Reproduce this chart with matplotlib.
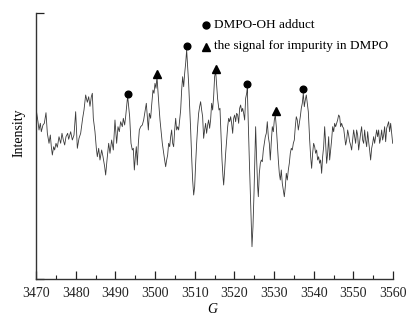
import matplotlib
matplotlib.use("Agg")
import matplotlib.pyplot as plt
from matplotlib.ticker import MultipleLocator

plt.rcParams['font.family'] = ['Liberation Serif', 'DejaVu Serif']

# ---- data (magnetic field G, intensity in arbitrary units) ----
field_G = [
    3470.00, 3470.50, 3470.76, 3471.09, 3471.34, 3471.76, 3472.10, 3472.52, 3472.86, 3473.28,
    3473.61, 3473.86, 3474.12, 3474.45, 3474.70, 3475.04, 3475.38, 3475.80, 3476.22, 3476.55,
    3476.89, 3477.23, 3477.56, 3477.98, 3478.24, 3478.74, 3479.16, 3479.58, 3480.00, 3480.42,
    3480.84, 3481.26, 3481.76, 3482.10, 3482.52, 3482.94, 3483.28, 3483.61, 3483.95, 3484.20,
    3484.45, 3484.87, 3485.21, 3485.46, 3485.80, 3486.13, 3486.55, 3486.89, 3487.31, 3487.56,
    3487.90, 3488.32, 3488.65, 3489.07, 3489.49, 3489.91, 3490.33, 3490.67, 3491.00, 3491.34,
    3491.76, 3492.01, 3492.35, 3492.60, 3493.10,
    3493.61, 3493.95, 3494.28, 3494.53, 3494.79, 3495.04, 3495.29, 3495.54, 3495.80, 3496.05,
    3496.38, 3496.80, 3497.14, 3497.48, 3497.81, 3498.07, 3498.32, 3498.57, 3498.90, 3499.16,
    3499.49, 3499.75, 3500.00, 3500.25, 3500.50, 3500.75, 3501.01, 3501.26, 3501.51, 3501.84,
    3502.18, 3502.43, 3502.69, 3502.94, 3503.19, 3503.44, 3503.70, 3503.95, 3504.20, 3504.45,
    3504.70, 3504.96, 3505.21, 3505.46, 3505.71, 3505.96, 3506.22, 3506.47, 3506.72, 3506.97,
    3507.23, 3507.48, 3507.73, 3507.98, 3508.23, 3508.48, 3508.74, 3508.99, 3509.24, 3509.49,
    3509.75, 3510.00, 3510.25, 3510.50, 3510.75, 3511.00, 3511.25, 3511.50, 3511.76, 3512.01,
    3512.26, 3512.51, 3512.76, 3513.01, 3513.27, 3513.52, 3513.77, 3514.02, 3514.28, 3514.53,
    3514.78, 3515.03, 3515.29, 3515.79,
    3516.13, 3516.38, 3516.63, 3516.89, 3517.14, 3517.31, 3517.56, 3517.81, 3518.06, 3518.32,
    3518.57, 3518.82, 3519.07, 3519.32, 3519.58, 3519.83, 3520.08, 3520.33, 3520.58, 3520.84,
    3521.09, 3521.34, 3521.59, 3521.85, 3522.10, 3522.35, 3522.60, 3522.85, 3523.11, 3523.27,
    3523.53, 3523.78, 3524.03, 3524.28, 3524.45, 3524.70, 3524.96, 3525.21, 3525.37, 3525.63,
    3525.88, 3526.05, 3526.30, 3526.55, 3526.80, 3527.05, 3527.31, 3527.56, 3527.81, 3528.06,
    3528.31, 3528.57, 3528.82, 3529.07, 3529.32, 3529.57, 3529.83, 3530.08, 3530.33, 3530.58,
    3530.83, 3531.09, 3531.34, 3531.59, 3531.84, 3532.09, 3532.35, 3532.60, 3532.85, 3533.10,
    3533.35, 3533.61, 3533.86, 3534.11, 3534.36, 3534.61, 3534.87, 3535.12, 3535.37, 3535.62,
    3535.87, 3536.13, 3536.38, 3536.63, 3536.88, 3537.13, 3537.39, 3537.64, 3537.89, 3538.14,
    3538.39, 3538.65,
    3538.99, 3539.24, 3539.49, 3539.74, 3539.99, 3540.25, 3540.50, 3540.75, 3541.00, 3541.25,
    3541.51, 3541.76, 3542.01, 3542.26, 3542.52, 3542.77, 3543.02, 3543.27, 3543.52, 3543.78,
    3544.03, 3544.28, 3544.53, 3544.78, 3545.04, 3545.29, 3545.54, 3545.79, 3546.04, 3546.30,
    3546.55, 3546.80, 3547.05, 3547.30, 3547.56, 3547.81, 3548.06, 3548.31, 3548.57, 3548.82,
    3549.07, 3549.32, 3549.57, 3549.83, 3550.08, 3550.33, 3550.58, 3550.83, 3551.09, 3551.34,
    3551.59, 3551.84, 3552.09, 3552.35, 3552.60, 3552.85, 3553.10, 3553.36, 3553.61, 3553.86,
    3554.11, 3554.36, 3554.62, 3554.87, 3555.12, 3555.37, 3555.62, 3555.88, 3556.13, 3556.38,
    3556.63, 3556.88, 3557.14, 3557.39, 3557.64, 3557.89, 3558.15, 3558.40, 3558.65, 3558.90,
    3559.15, 3559.41, 3559.66, 3559.92,
]

intensity = [
    170.7, 157.3, 149.0, 155.7, 147.3, 154.0, 155.7, 166.3, 145.7, 135.7,
    144.0, 132.3, 124.0, 132.3, 129.0, 135.7, 131.7, 142.3, 135.7, 145.7,
    139.0, 134.0, 142.3, 145.7, 139.7, 147.3, 139.0, 144.0, 167.3, 130.7,
    140.7, 145.7, 160.7, 169.0, 184.0, 176.7, 182.3, 172.7, 182.3, 185.7,
    160.7, 147.3, 130.7, 122.3, 130.7, 119.0, 129.0, 122.3, 112.3, 104.0,
    119.0, 135.7, 125.7, 139.0, 129.0, 159.0, 135.7, 152.3, 147.3, 157.3,
    152.3, 160.7, 154.0, 162.3, 183.0,
    162.3, 135.7, 129.0, 130.7, 109.0, 122.3, 132.3, 114.0, 135.7, 149.0,
    152.3, 154.0, 159.0, 167.3, 175.7, 162.3, 149.0, 165.7, 160.7, 174.0,
    189.0, 185.7, 195.7, 190.7, 202.3, 187.3, 172.3, 159.0, 149.0, 135.7,
    125.7, 119.0, 112.3, 119.0, 124.0, 135.7, 132.3, 142.3, 149.0, 135.7,
    132.3, 149.0, 160.7, 149.0, 152.3, 149.0, 159.0, 169.0, 189.0, 202.3,
    192.3, 205.7, 215.7, 229.0, 212.3, 195.7, 172.3, 149.0, 122.3, 99.0,
    84.0, 92.3, 115.7, 135.7, 152.3, 165.7, 172.3, 177.3, 169.0, 162.3,
    140.7, 149.0, 155.7, 145.7, 154.0, 159.0, 150.7, 159.0, 175.7, 169.0,
    182.3, 202.3, 208.0, 180.0,
    169.0, 170.7, 145.7, 119.0, 102.3, 94.0, 109.0, 125.7, 139.0, 152.3,
    160.7, 157.3, 162.3, 155.7, 145.7, 160.7, 164.0, 157.3, 165.7, 164.0,
    155.7, 170.7, 174.0, 167.3, 170.7, 165.7, 159.0, 180.7, 185.7, 190.7,
    152.3, 119.0, 85.7, 52.3, 32.3, 52.3, 85.7, 125.7, 152.3, 119.0,
    92.3, 82.3, 105.7, 115.7, 119.0, 117.3, 129.0, 135.7, 142.3, 145.7,
    157.3, 142.3, 135.7, 119.0, 137.3, 152.3, 147.3, 159.0, 164.0, 152.3,
    135.7, 119.0, 105.7, 99.0, 109.0, 95.7, 89.0, 82.3, 92.3, 105.7,
    99.0, 109.0, 115.7, 125.7, 130.7, 129.0, 135.7, 139.0, 152.3, 162.3,
    159.0, 149.0, 155.7, 162.3, 170.7, 175.7, 185.7, 172.3, 179.0, 184.0,
    175.7, 167.3,
    139.0, 122.3, 110.7, 125.7, 135.7, 132.3, 125.7, 129.0, 119.0, 122.3,
    115.7, 119.0, 105.7, 122.3, 132.3, 152.3, 135.7, 115.7, 125.7, 142.3,
    119.0, 129.0, 139.0, 152.3, 147.3, 155.7, 152.3, 155.7, 159.0, 164.0,
    162.3, 152.3, 155.7, 152.3, 150.7, 142.3, 134.0, 139.0, 149.0, 144.0,
    137.3, 134.0, 129.0, 139.0, 149.0, 142.3, 135.7, 149.0, 144.0, 129.0,
    137.3, 145.7, 152.3, 139.0, 135.7, 149.0, 139.0, 132.3, 147.3, 137.3,
    129.0, 119.0, 130.7, 135.7, 142.3, 135.7, 142.3, 149.0, 142.3, 149.0,
    135.7, 140.7, 149.0, 139.0, 144.0, 152.3, 137.3, 150.7, 154.0, 157.3,
    147.3, 155.7, 145.7, 135.7,
]

# DMPO-OH adduct peaks (circles) and impurity peaks (triangles)
adduct_G = [3493.2, 3508.0, 3523.1, 3537.2]
adduct_I = [185.0, 233.3, 194.7, 190.0]
impurity_G = [3500.6, 3515.3, 3530.5]
impurity_I = [205.0, 209.7, 168.0]

legend_labels = ["DMPO-OH adduct", "the signal for impurity in DMPO"]
xtick_values = list(range(3470, 3561, 10))

# ---- figure ----
fig = plt.figure(figsize=(4.13, 3.25), dpi=100)
ax = fig.add_axes([36 / 413, 46 / 325, 357 / 413, 266 / 325])

ax.plot(field_G, intensity, color='#3a3a3a', linewidth=0.6)
ax.plot(adduct_G, adduct_I, linestyle='none', marker='o', markersize=4.8, color='black')
ax.plot(impurity_G, impurity_I, linestyle='none', marker='^', markersize=5.2, color='black')

ax.set_xlim(3470, 3560)
ax.set_ylim(0, 266)

for s in ['top', 'right']:
    ax.spines[s].set_visible(False)
for s in ['left', 'bottom']:
    ax.spines[s].set_linewidth(1.0)
    ax.spines[s].set_color('#333333')

ax.set_xticks(xtick_values)
ax.set_xticklabels([str(v) for v in xtick_values])
ax.xaxis.set_minor_locator(MultipleLocator(5))
ax.tick_params(axis='x', which='major', direction='in', length=6, width=0.9,
               labelsize=10, pad=6, colors='#222222')
ax.tick_params(axis='x', which='minor', direction='in', length=3, width=0.8, colors='#222222')
ax.set_yticks([0, 266])
ax.set_yticklabels([])
ax.tick_params(axis='y', which='major', direction='in', length=6, width=0.9, colors='#222222')

ax.set_xlabel('G', fontsize=10, fontstyle='italic')
ax.xaxis.set_label_coords(176 / 357, -24 / 266)
ax.set_ylabel('Intensity', fontsize=10)
ax.yaxis.set_label_coords(-10 / 357, 146 / 266)

# legend drawn in axes coordinates
ax.plot([170 / 357], [254 / 266], transform=ax.transAxes, marker='o', markersize=5,
        color='black', linestyle='none', clip_on=False)
ax.text(178 / 357, 254 / 266, legend_labels[0], transform=ax.transAxes, fontsize=9.5,
        va='center', ha='left')
ax.plot([170 / 357], [232.5 / 266], transform=ax.transAxes, marker='^', markersize=5.4,
        color='black', linestyle='none', clip_on=False)
ax.text(178 / 357, 232.5 / 266, legend_labels[1], transform=ax.transAxes, fontsize=9.5,
        va='center', ha='left')

fig.savefig('out.png', dpi=100)
